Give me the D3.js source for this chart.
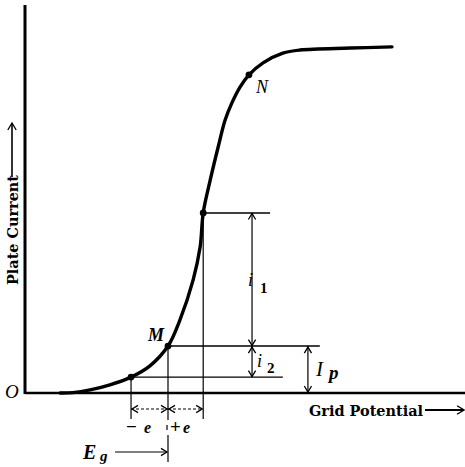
<!DOCTYPE html>
<html>
<head>
<meta charset="utf-8">
<script src="https://cdn.jsdelivr.net/npm/d3@7"></script>
<style>
html,body{margin:0;padding:0;background:#fff;}
svg{display:block;}
</style>
</head>
<body>
<svg id="chart" width="465" height="467"></svg>
<script>
// ---- data (abstract units: grid potential 0..100, plate current 0..100) ----
const gridPotential = [8.0, 10.9, 14.8, 19.3, 24.1, 28.4, 32.5, 35.2, 38.2, 39.8, 40.5, 42.0, 43.9, 45.5, 47.0, 48.9, 50.9, 54.1, 58.6, 62.5, 73.9, 83.4];
const plateCurrent  = [0.0, 0.1, 0.8, 2.1, 4.1, 7.0, 12.1, 18.8, 29.1, 37.6, 46.4, 54.4, 63.4, 70.4, 74.7, 78.9, 82.0, 85.1, 87.6, 88.4, 88.9, 89.2];
// marked points on the curve: lower (-e), operating point M, upper (+e), N
const pointNames = ["low", "M", "high", "N"];
const pointX = [24.1, 32.5, 40.5, 50.9];
const pointY = [4.1, 12.1, 46.4, 82.0];
const axisLabels = ["Grid Potential", "Plate Current"];

// ---- layout ----
const svg = d3.select("#chart");
const x = d3.scaleLinear().domain([0, 100]).range([25, 465]);
const y = d3.scaleLinear().domain([0, 100]).range([393, 5]);
const ink = "#000";

function head(g, px, py, dir, s = 6) {
  const w = s * 0.6;
  let d;
  if (dir === "up") d = `M${px - w},${py + s} L${px},${py} L${px + w},${py + s}`;
  if (dir === "down") d = `M${px - w},${py - s} L${px},${py} L${px + w},${py - s}`;
  if (dir === "left") d = `M${px + s},${py - w} L${px},${py} L${px + s},${py + w}`;
  if (dir === "right") d = `M${px - s},${py - w} L${px},${py} L${px - s},${py + w}`;
  g.append("path").attr("d", d).attr("fill", "none").attr("stroke", ink).attr("stroke-width", 1.3);
}
function seg(g, x1, y1, x2, y2, w = 1, dash = null) {
  const l = g.append("line").attr("x1", x1).attr("y1", y1).attr("x2", x2).attr("y2", y2)
    .attr("stroke", ink).attr("stroke-width", w);
  if (dash) l.attr("stroke-dasharray", dash);
  return l;
}
function txt(g, s, px, py, size, opts = {}) {
  const t = g.append("text").attr("x", px).attr("y", py).text(s)
    .attr("font-family", opts.family || "DejaVu Serif")
    .attr("font-size", size)
    .attr("font-weight", opts.weight || "normal")
    .attr("font-style", opts.style || "normal")
    .attr("fill", ink);
  if (opts.len) t.attr("textLength", opts.len).attr("lengthAdjust", "spacingAndGlyphs");
  if (opts.anchor) t.attr("text-anchor", opts.anchor);
  return t;
}

const g = svg.append("g");

// axes
seg(g, x(0), y(0), x(100), y(0), 2.6);
seg(g, x(0), y(0) + 1, x(0), y(100), 3);

// construction lines
const P = pointNames.map((n, i) => ({ n, px: x(pointX[i]), py: y(pointY[i]) }));
const low = P[0], M = P[1], high = P[2], N = P[3];
const xDimI = x(51.6), xDimIp = x(64.3);
const yDimE = 409, yBelow = 419;

seg(g, high.px, high.py, x(55.7), high.py, 1.4);
seg(g, M.px, M.py, x(67.0), M.py, 1.4);
seg(g, low.px, low.py, x(58.6), low.py, 1.4);

seg(g, low.px, low.py, low.px, yBelow, 1.2);
seg(g, high.px, high.py, high.px, yBelow, 1.2);
seg(g, M.px, M.py, M.px, 420, 1.2);
seg(g, M.px - 1, 425, M.px - 1, 430, 1.2);
seg(g, M.px, 435, M.px, 462, 1.2);

// i1, i2, Ip dimension arrows
seg(g, xDimI, high.py, xDimI, M.py, 1.2);
head(g, xDimI, high.py + 0.5, "up");
head(g, xDimI, M.py - 0.5, "down");
seg(g, xDimI, M.py, xDimI, low.py, 1.2);
head(g, xDimI, M.py + 1, "up");
head(g, xDimI, low.py - 0.5, "down");
seg(g, xDimIp, M.py, xDimIp, y(0), 1.2);
head(g, xDimIp, M.py + 1, "up");
head(g, xDimIp, y(0) - 1, "down");

// -e / +e
seg(g, low.px, yDimE, M.px, yDimE, 1.1, "3,2");
head(g, low.px + 1, yDimE, "left");
head(g, M.px - 1, yDimE, "right");
seg(g, M.px, yDimE, high.px, yDimE, 1.1, "3,2");
head(g, M.px + 1, yDimE, "left");
head(g, high.px - 1, yDimE, "right");

// Eg arrow
seg(g, 115, 452, M.px - 1, 452, 1.2);
head(g, M.px - 1, 452, "right");

// curve
const line = d3.line().x(d => x(d[0])).y(d => y(d[1])).curve(d3.curveCatmullRom.alpha(0.5));
const curveData = gridPotential.map((v, i) => [v, plateCurrent[i]]);
g.append("path").attr("d", line(curveData)).attr("fill", "none")
  .attr("stroke", ink).attr("stroke-width", 3.4).attr("stroke-linecap", "round");

// marked dots
g.selectAll("circle.pt").data(P).enter().append("circle")
  .attr("cx", d => d.px).attr("cy", d => d.py).attr("r", 3.4).attr("fill", ink);

// labels
const serif = "Liberation Serif";
txt(g, "O", 5, 398, 19, { family: serif, style: "italic" });
txt(g, "M", M.px - 20, M.py - 5, 18, { family: serif, style: "italic", weight: "bold" });
txt(g, "N", N.px + 7, N.py + 18, 18, { family: serif, style: "italic" });
txt(g, "i", xDimI - 4, 286, 18, { family: serif, style: "italic" });
txt(g, "1", xDimI + 8, 293, 15, { family: serif, weight: "bold" });
txt(g, "i", xDimI + 5, 367, 18, { family: serif, style: "italic" });
txt(g, "2", xDimI + 15, 373, 15, { family: serif, weight: "bold" });
txt(g, "I", xDimIp + 8, 376, 21, { family: serif, style: "italic" });
txt(g, "p", xDimIp + 21, 379, 19, { family: serif, style: "italic", weight: "bold" });
txt(g, "−", low.px - 5, 433, 19, { family: serif, weight: "bold" });
txt(g, "e", low.px + 13, 433, 16, { family: serif, style: "italic", weight: "bold" });
txt(g, "+", M.px + 2, 433, 19, { family: serif, weight: "bold" });
txt(g, "e", M.px + 15, 433, 16, { family: serif, style: "italic", weight: "bold" });
txt(g, "E", 83, 459, 20, { family: serif, style: "italic", weight: "bold" });
txt(g, "g", 100, 461, 15, { family: serif, style: "italic", weight: "bold" });

// axis titles
txt(g, axisLabels[0], 309, 416, 15, { weight: "bold", len: 114 });
seg(g, 425, 410, 463, 410, 1.8);
head(g, 464, 410, "right", 7);

const gy = g.append("g").attr("transform", "translate(18,285) rotate(-90)");
txt(gy, axisLabels[1], 0, 0, 15, { weight: "bold", len: 110 });
seg(g, 12, 177, 12, 124, 1.6);
head(g, 12, 123, "up", 7);
</script>
</body>
</html>
